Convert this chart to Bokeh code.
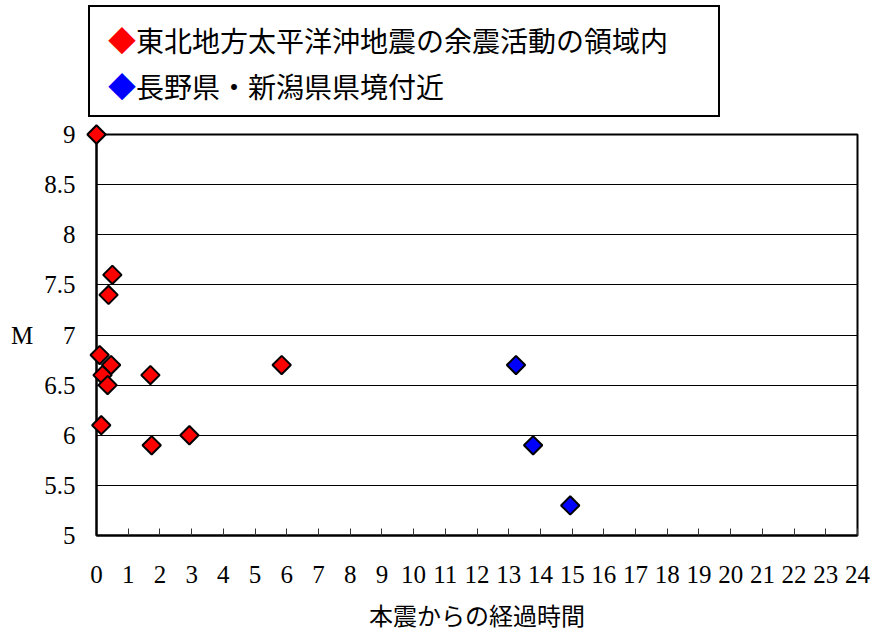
import numpy as np
from bokeh.plotting import figure
from bokeh.layouts import column
from bokeh.models import (FixedTicker, NumeralTickFormatter, ColumnDataSource, Range1d, Div)
from bokeh.embed import file_html
from bokeh.resources import INLINE

# Data (elapsed time since mainshock, magnitude)
tohoku_t = [0.0, 0.5, 0.38, 0.1, 0.46, 0.19, 0.35, 0.15, 1.7, 1.74, 2.93, 5.84]
tohoku_m = [9.0, 7.6, 7.4, 6.8, 6.7, 6.6, 6.5, 6.1, 6.6, 5.9, 6.0, 6.7]
nagano_t = [13.23, 13.77, 14.94]
nagano_m = [6.7, 5.9, 5.3]

series_names = ["東北地方太平洋沖地震の余震活動の領域内", "長野県・新潟県県境付近"]
series_colors = ["#ff0000", "#0000ff"]
x_ticks = list(range(0, 25))
y_ticks = [5, 5.5, 6, 6.5, 7, 7.5, 8, 8.5, 9]
x_label = "本震からの経過時間"
y_label = "M"

SERIF = "Liberation Serif"
CJK = "Noto Sans CJK JP"

# ---- legend box (text box above the chart) ----
rows = "".join(
    f'<div style="height:46px;line-height:46px;white-space:nowrap;">'
    f'<span style="color:{c};">◆</span>{n}</div>'
    for n, c in zip(series_names, series_colors)
)
legend_html = (
    f'<div style="position:absolute;left:88px;top:5px;width:610px;height:98px;'
    f'border:2px solid black;padding:10px 0 0 18px;box-sizing:content-box;'
    f'font-family:\'{CJK}\';font-size:28px;color:black;background:white;">'
    f'{rows}</div>'
)
lg = Div(text=legend_html, width=722, height=118, margin=0,
         styles={"position": "relative", "overflow": "visible"})

# ---- main chart ----
p = figure(width=870, height=516, output_backend="svg", toolbar_location=None,
           x_range=Range1d(0, 24), y_range=Range1d(5, 9),
           min_border_left=96, min_border_right=13, min_border_top=16, min_border_bottom=99)
p.background_fill_color = "white"
p.border_fill_color = "white"
p.outline_line_color = "black"
p.outline_line_width = 2

p.xgrid.visible = False
p.ygrid.grid_line_color = "black"
p.ygrid.grid_line_width = 1
p.ygrid.ticker = FixedTicker(ticks=y_ticks)

p.xaxis.ticker = FixedTicker(ticks=x_ticks)
p.yaxis.ticker = FixedTicker(ticks=y_ticks)
p.yaxis.formatter = NumeralTickFormatter(format="0.[0]")
p.xaxis.minor_tick_line_color = None
p.yaxis.minor_tick_line_color = None
p.xaxis.major_tick_in = 7
p.xaxis.major_tick_out = 0
p.xaxis.major_tick_line_color = "#333333"
p.yaxis.major_tick_in = 0
p.yaxis.major_tick_out = 0
for ax in (p.xaxis, p.yaxis):
    ax.axis_line_color = "black"
    ax.axis_line_width = 2
    ax.major_label_text_font = SERIF
    ax.major_label_text_font_size = "25px"
    ax.major_label_text_color = "black"
    ax.axis_label_text_color = "black"
p.xaxis.major_label_standoff = 30
p.yaxis.major_label_standoff = 21

p.xaxis.axis_label = x_label
p.xaxis.axis_label_text_font = CJK
p.xaxis.axis_label_text_font_size = "24px"
p.xaxis.axis_label_text_font_style = "normal"
p.xaxis.axis_label_standoff = 11
p.yaxis.axis_label = y_label
p.yaxis.axis_label_text_font = SERIF
p.yaxis.axis_label_text_font_size = "25px"
p.yaxis.axis_label_text_font_style = "normal"
p.yaxis.axis_label_standoff = 8
p.yaxis.axis_label_orientation = "horizontal"

for color, xs, ys in [(series_colors[0], tohoku_t, tohoku_m),
                      (series_colors[1], nagano_t, nagano_m)]:
    src = ColumnDataSource(dict(x=xs, y=ys))
    p.scatter("x", "y", source=src, marker="square", angle=np.pi / 4, size=13,
              fill_color=color, line_color="black", line_width=2, level="overlay")

layout = column(lg, p, spacing=0)
open("out.html", "w").write(file_html(layout, INLINE))
